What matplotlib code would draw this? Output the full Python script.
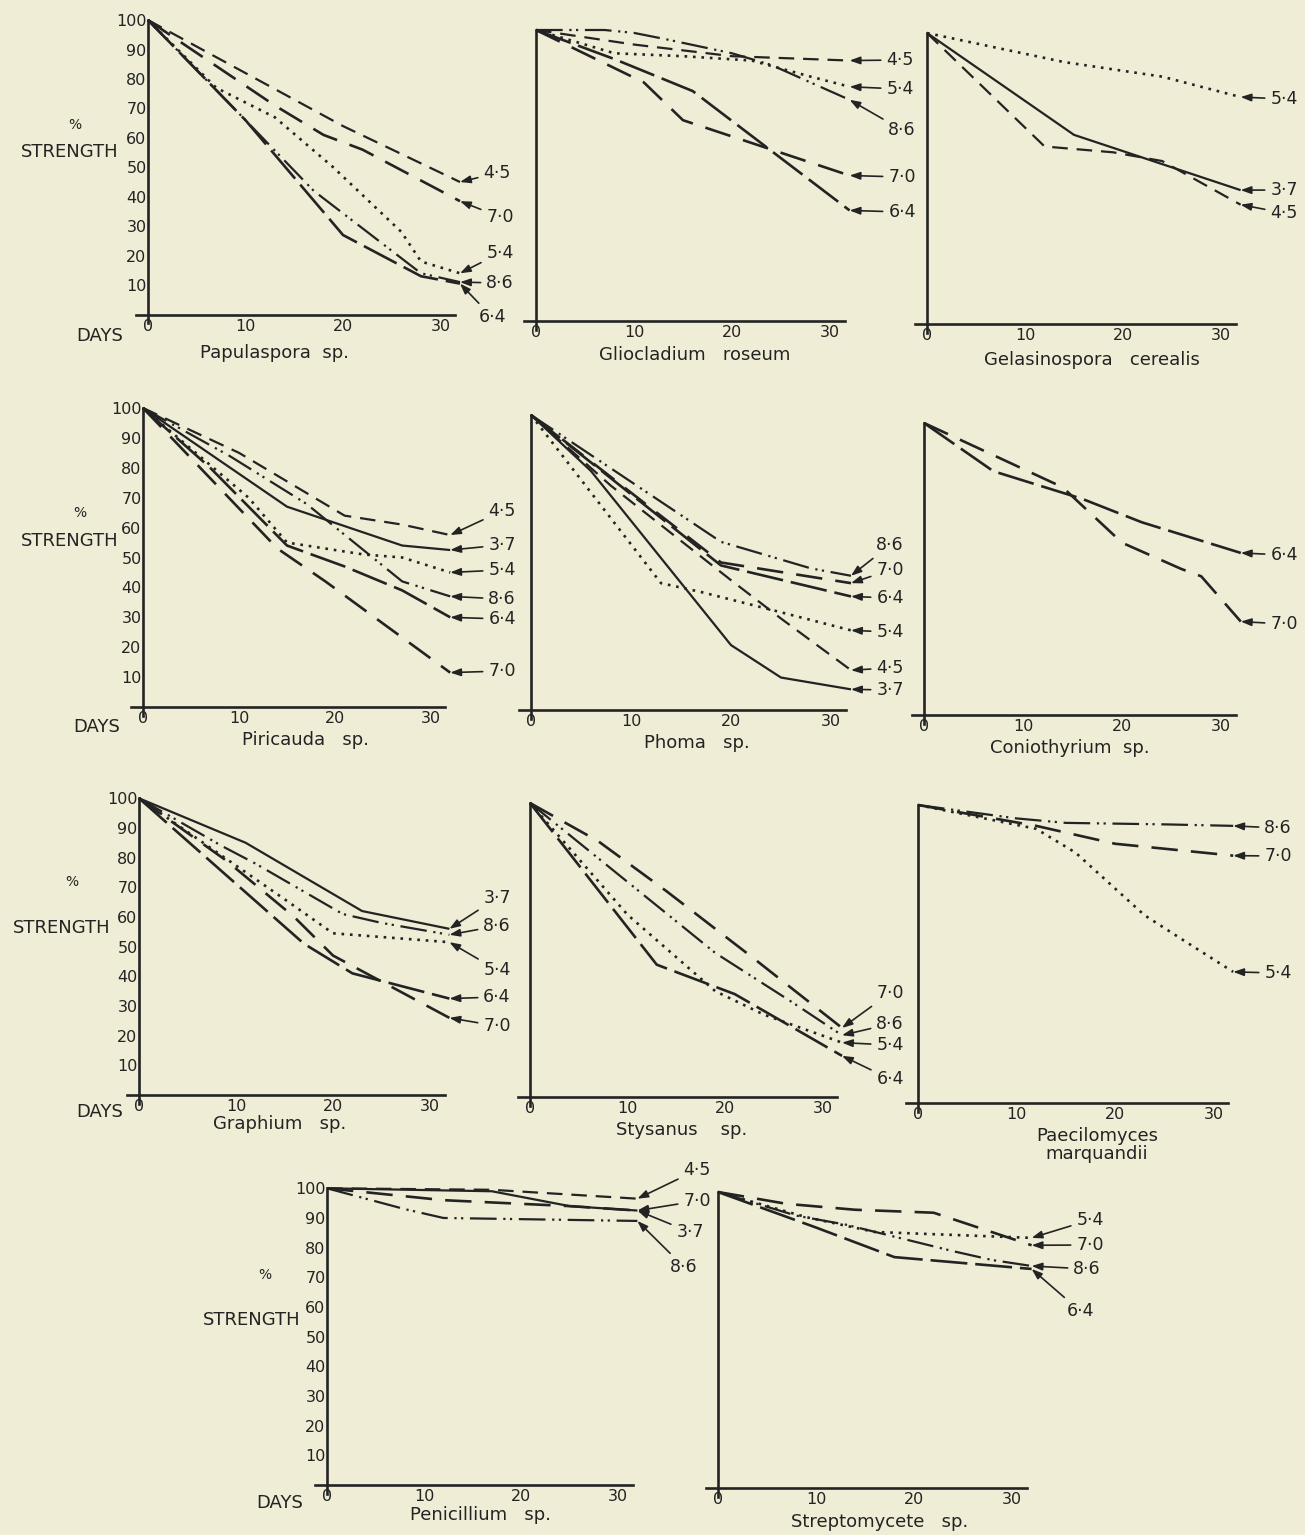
import matplotlib
matplotlib.use("Agg")
import matplotlib.pyplot as plt

W, H = 1305, 1535

# ---------------- data: days and % strength per pH, per organism ----------------
papulaspora = {
    "4·5": ([0, 20, 32], [100, 64, 45]),
    "7·0": ([0, 13, 18, 22, 32], [100, 71, 61, 56, 38.5]),
    "5·4": ([0, 7, 13, 19, 26, 28, 32], [100, 77, 67, 50, 28, 18, 14]),
    "8·6": ([0, 10, 17, 28, 32], [100, 66, 42, 14, 11]),
    "6·4": ([0, 10, 20, 28, 32], [100, 66, 27, 13, 10.5]),
}
gliocladium = {
    "4·5": ([0, 10, 20, 32], [100, 95, 91, 89.5]),
    "5·4": ([0, 8, 15, 22, 28, 32], [100, 92, 91, 89.5, 84, 80.5]),
    "8·6": ([0, 7, 10, 13, 20, 24, 32], [100, 100, 99, 97, 92, 88, 76]),
    "7·0": ([0, 11, 15, 32], [100, 82, 69, 50]),
    "6·4": ([0, 8, 16, 32], [100, 90, 79, 38]),
}
gelasinospora = {
    "5·4": ([0, 14, 24, 32], [100, 90, 85, 78]),
    "3·7": ([0, 15, 32], [100, 65, 46]),
    "4·5": ([0, 12, 19, 24, 32], [100, 61, 59, 56, 41]),
}
piricauda = {
    "4·5": ([0, 10, 21, 27, 32], [100, 85, 64, 61, 57.5]),
    "3·7": ([0, 15, 27, 32], [100, 67, 54, 52.5]),
    "5·4": ([0, 11, 15, 23, 27, 32], [100, 70, 55, 51, 50, 45]),
    "8·6": ([0, 9, 17, 27, 32], [100, 84, 68, 42, 37]),
    "6·4": ([0, 7, 15, 21, 27, 32], [100, 80, 54, 47, 39, 30]),
    "7·0": ([0, 14, 19, 32], [100, 53, 42, 11.5]),
}
phoma = {
    "8·6": ([0, 19, 28, 32], [100, 57, 48, 45.5]),
    "7·0": ([0, 19, 32], [100, 50, 43]),
    "6·4": ([0, 19, 32], [100, 49, 38.5]),
    "5·4": ([0, 13, 17, 24, 32], [100, 43, 40, 34, 27]),
    "4·5": ([0, 8, 20, 25, 32], [100, 76, 44, 31, 13.5]),
    "3·7": ([0, 6, 20, 25, 32], [100, 81, 22, 11, 7]),
}
coniothyrium = {
    "6·4": ([0, 7, 16, 22, 32], [100, 83.5, 74, 66, 55.5]),
    "7·0": ([0, 14, 20, 26, 28, 32], [100, 78, 59, 50, 47.5, 32]),
}
graphium = {
    "3·7": ([0, 11, 23, 32], [100, 85, 62, 56]),
    "8·6": ([0, 8.5, 12, 21, 25, 32], [100, 84, 78, 61, 58, 54]),
    "5·4": ([0, 15, 20, 32], [100, 66, 54.5, 51.5]),
    "6·4": ([0, 17, 22, 32], [100, 51, 41, 32.5]),
    "7·0": ([0, 9, 16, 20, 32], [100, 79, 60, 47, 26]),
}
stysanus = {
    "7·0": ([0, 7, 14, 23, 32], [100, 87, 70, 47, 23.5]),
    "8·6": ([0, 19, 27, 32], [100, 49, 32, 21]),
    "5·4": ([0, 10, 19, 24, 32], [100, 62, 36, 28, 18.5]),
    "6·4": ([0, 13, 21, 32], [100, 45, 35, 14]),
}
paecilomyces = {
    "8·6": ([0, 10, 15, 25, 32], [100, 95.5, 94, 93.5, 93]),
    "7·0": ([0, 12, 20, 32], [100, 93, 87, 83]),
    "5·4": ([0, 12, 16, 23, 27, 32], [100, 92, 84, 63, 54.5, 44]),
}
penicillium = {
    "4·5": ([0, 17, 32], [100, 99.5, 96.5]),
    "7·0": ([0, 12, 25, 32], [100, 96, 94, 92.5]),
    "3·7": ([0, 17, 25, 32], [100, 99, 94, 92.5]),
    "8·6": ([0, 8, 12, 22, 32], [100, 93, 90, 89.5, 89]),
}
streptomycete = {
    "5·4": ([0, 9, 16, 32], [100, 91.5, 86.5, 84.5]),
    "7·0": ([0, 7, 14, 22, 32], [100, 96, 94, 93, 82]),
    "8·6": ([0, 8, 13, 24, 28, 32], [100, 92, 89, 80, 77, 75]),
    "6·4": ([0, 10, 18, 32], [100, 88, 78, 74]),
}

x_ticks = [0, 10, 20, 30]
y_ticks = [10, 20, 30, 40, 50, 60, 70, 80, 90, 100]

# ---------------- styles ----------------
INK = "#232323"
PAPER = "#efedd6"
STYLES = {
    "3·7": dict(ls="-", lw=1.6),
    "4·5": dict(ls=(0, (7, 4)), lw=1.6),
    "5·4": dict(ls=(0, (1, 2.2)), lw=1.9),
    "6·4": dict(ls=(0, (14, 3)), lw=1.9),
    "7·0": dict(ls=(0, (10, 5)), lw=1.9),
    "8·6": dict(ls=(0, (12, 3, 1, 2, 1, 3)), lw=1.6),
}

panels = [
    dict(data=papulaspora, geo=(148, 314.5, 9.75, 2.944), title="Papulaspora  sp.",
         tpos=(275, 353), ylab=True, side=((75, 125), (70, 152), (100, 336)),
         lab={"4·5": (497, 173), "7·0": (500, 217), "5·4": (500, 253),
              "8·6": (500, 283), "6·4": (492, 317)}),
    dict(data=gliocladium, geo=(536, 321, 9.8, 2.91), title="Gliocladium   roseum",
         tpos=(695, 355), ylab=False,
         lab={"4·5": (900, 60), "5·4": (900, 89), "8·6": (902, 130),
              "7·0": (902, 177), "6·4": (902, 212)}),
    dict(data=gelasinospora, geo=(927, 324, 9.8, 2.91), title="Gelasinospora   cerealis",
         tpos=(1092, 360), ylab=False,
         lab={"5·4": (1284, 99), "3·7": (1284, 190), "4·5": (1284, 213)}),
    dict(data=piricauda, geo=(143, 707, 9.6, 2.99), title="Piricauda   sp.",
         tpos=(305, 740), ylab=True, side=((80, 513), (70, 541), (97, 727)),
         lab={"4·5": (502, 511), "3·7": (502, 545), "5·4": (502, 570),
              "8·6": (502, 599), "6·4": (502, 619), "7·0": (502, 671)}),
    dict(data=phoma, geo=(531, 710, 10.0, 2.95), title="Phoma   sp.",
         tpos=(697, 743), ylab=False,
         lab={"8·6": (890, 545), "7·0": (890, 570), "6·4": (890, 598),
              "5·4": (890, 632), "4·5": (890, 668), "3·7": (890, 690)}),
    dict(data=coniothyrium, geo=(924, 715, 9.9, 2.92), title="Coniothyrium  sp.",
         tpos=(1070, 748), ylab=False,
         lab={"6·4": (1284, 555), "7·0": (1284, 624)}),
    dict(data=graphium, geo=(139, 1095, 9.7, 2.967), title="Graphium   sp.",
         tpos=(280, 1124), ylab=True, side=((72, 882), (62, 928), (100, 1112)),
         lab={"3·7": (497, 898), "8·6": (497, 926), "5·4": (497, 970),
              "6·4": (497, 997), "7·0": (497, 1026)}),
    dict(data=stysanus, geo=(530, 1097, 9.75, 2.94), title="Stysanus    sp.",
         tpos=(682, 1130), ylab=False,
         lab={"7·0": (890, 993), "8·6": (890, 1024), "5·4": (890, 1045),
              "6·4": (890, 1079)}),
    dict(data=paecilomyces, geo=(918, 1103, 9.85, 2.98), title="Paecilomyces\nmarquandii",
         tpos=(1097, 1145), ylab=False,
         lab={"8·6": (1278, 828), "7·0": (1278, 856), "5·4": (1278, 973)}),
    dict(data=penicillium, geo=(327, 1485, 9.7, 2.967), title="Penicillium   sp.",
         tpos=(480, 1515), ylab=True, side=((265, 1275), (252, 1320), (280, 1503)),
         lab={"4·5": (697, 1170), "7·0": (697, 1201), "3·7": (690, 1232),
              "8·6": (684, 1267)}),
    dict(data=streptomycete, geo=(718, 1488, 9.8, 2.96), title="Streptomycete   sp.",
         tpos=(880, 1522), ylab=False,
         lab={"5·4": (1090, 1220), "7·0": (1090, 1245), "8·6": (1087, 1269),
              "6·4": (1080, 1311)}),
]

plt.rcParams["font.family"] = ["DejaVu Sans"]
fig = plt.figure(figsize=(W / 100, H / 100), dpi=100)
fig.patch.set_facecolor(PAPER)

XMIN, XMAX, YMIN, YMAX = -2, 34, -4, 102


def fpix(x, y):
    return x / W, 1 - y / H


for p in panels:
    ox, oy, pxd, pxu = p["geo"]
    left = ox + XMIN * pxd
    right = ox + XMAX * pxd
    top = oy - YMAX * pxu
    bottom = oy - YMIN * pxu
    ax = fig.add_axes([left / W, 1 - bottom / H, (right - left) / W, (bottom - top) / H])
    ax.set_xlim(XMIN, XMAX)
    ax.set_ylim(YMIN, YMAX)
    ax.patch.set_alpha(0)
    for s in ("top", "right"):
        ax.spines[s].set_visible(False)
    ax.spines["left"].set_position(("data", 0))
    ax.spines["bottom"].set_position(("data", 0))
    ax.spines["left"].set_bounds(-3, 100)
    ax.spines["bottom"].set_bounds(-1.2, 31.5)
    for s in ("left", "bottom"):
        ax.spines[s].set_linewidth(1.9)
        ax.spines[s].set_color(INK)
    ax.set_xticks(x_ticks)
    ax.set_xticklabels([str(t) for t in x_ticks])
    ax.tick_params(axis="x", length=0, pad=3, labelsize=11.5, colors=INK)
    if p["ylab"]:
        ax.set_yticks(y_ticks)
        ax.set_yticklabels([str(t) for t in y_ticks])
        ax.tick_params(axis="y", length=0, pad=1, labelsize=11.5, colors=INK)
    else:
        ax.set_yticks([])

    for lab, (d, v) in p["data"].items():
        st = STYLES[lab]
        ax.plot(d, v, color=INK, linestyle=st["ls"], lw=st["lw"],
                solid_capstyle="butt", dash_capstyle="butt", clip_on=False)
        tx, ty = p["lab"][lab]
        ax.annotate(lab, xy=(d[-1], v[-1]), xytext=(tx, H - ty),
                    textcoords="figure pixels", ha="center", va="center",
                    fontsize=12.5, color=INK, annotation_clip=False,
                    arrowprops=dict(arrowstyle="-|>,head_length=0.5,head_width=0.18",
                                    color=INK, lw=1.2, shrinkA=2, shrinkB=0))

    tx, ty = p["tpos"]
    fig.text(*fpix(tx, ty), p["title"], ha="center", va="center",
             fontsize=13, color=INK, linespacing=0.95)
    if "side" in p:
        (px, py), (sx, sy), (dx, dy) = p["side"]
        fig.text(*fpix(px, py), "%", ha="center", va="center", fontsize=10, color=INK)
        fig.text(*fpix(sx, sy), "STRENGTH", ha="center", va="center", fontsize=13, color=INK)
        fig.text(*fpix(dx, dy), "DAYS", ha="center", va="center", fontsize=13, color=INK)

fig.savefig("out.png", dpi=100, facecolor=PAPER)
